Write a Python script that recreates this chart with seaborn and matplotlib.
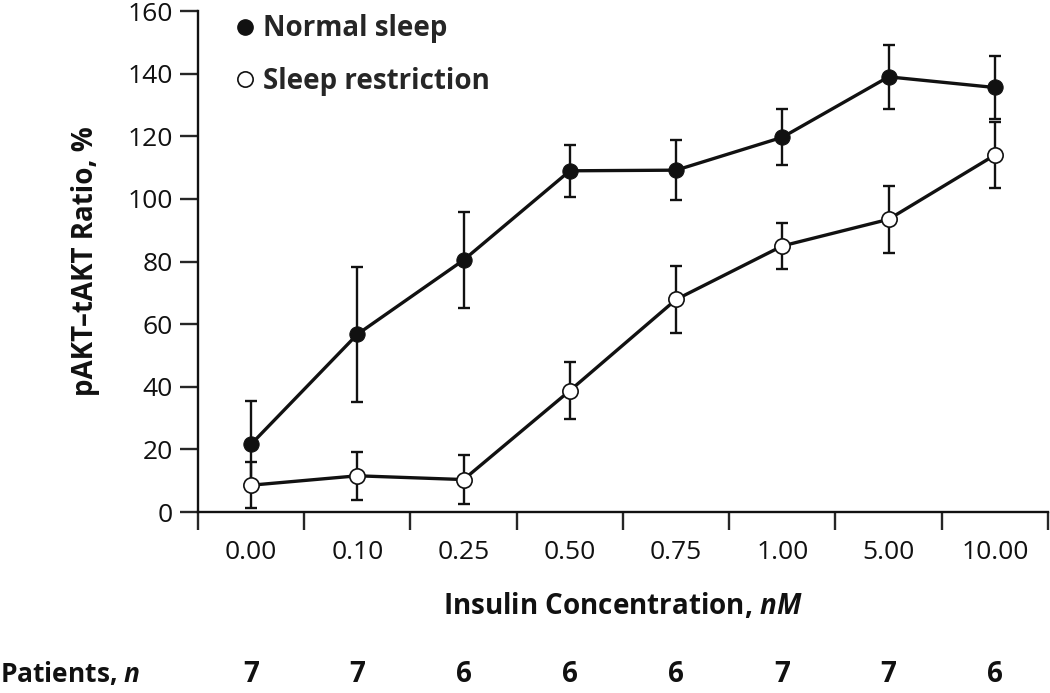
import numpy as np
import pandas as pd
import seaborn as sns
import matplotlib.pyplot as plt
from matplotlib.lines import Line2D
from matplotlib.transforms import blended_transform_factory

concentrations = ["0.00", "0.10", "0.25", "0.50", "0.75", "1.00", "5.00", "10.00"]
normal_mean = [21.7, 56.8, 80.5, 109.0, 109.2, 119.7, 139.0, 135.6]
normal_err = [13.8, 21.5, 15.3, 8.3, 9.6, 9.0, 10.2, 10.0]
restrict_mean = [8.6, 11.6, 10.4, 38.8, 67.9, 85.0, 93.5, 114.0]
restrict_err = [7.4, 7.7, 7.9, 9.2, 10.6, 7.3, 10.7, 10.5]
patients = [7, 7, 6, 6, 6, 7, 7, 6]

sns.set_style("ticks")
plt.rcParams["font.family"] = ["Open Sans", "DejaVu Sans"]
plt.rcParams["mathtext.fontset"] = "custom"
plt.rcParams["mathtext.it"] = "Open Sans:italic"
plt.rcParams["mathtext.bf"] = "Open Sans:bold"
plt.rcParams["mathtext.bfit"] = "Open Sans:bold:italic"

pos = np.arange(len(concentrations))
df = pd.DataFrame({"pos": pos, "normal": normal_mean, "restrict": restrict_mean})

ink = "#111111"
fig = plt.figure(figsize=(10.5, 6.93), dpi=100)
ax = fig.add_axes([0.1886, 0.261, 0.8094, 0.723])

ax.errorbar(pos, normal_mean, yerr=normal_err, fmt="none", ecolor=ink,
            elinewidth=1.7, capsize=4, capthick=1.7, zorder=2)
ax.errorbar(pos, restrict_mean, yerr=restrict_err, fmt="none", ecolor=ink,
            elinewidth=1.7, capsize=4, capthick=1.7, zorder=2)

sns.lineplot(data=df, x="pos", y="normal", ax=ax, color=ink, linewidth=2.4,
             marker="o", markersize=11, markerfacecolor=ink,
             markeredgecolor=ink, zorder=3)
sns.lineplot(data=df, x="pos", y="restrict", ax=ax, color=ink, linewidth=2.4,
             marker="o", markersize=11, markerfacecolor="white",
             markeredgecolor=ink, markeredgewidth=1.2, zorder=3)

ax.set_xlim(-0.5, len(concentrations) - 0.5)
ax.set_ylim(0, 160)
ax.set_yticks(range(0, 161, 20))
ax.set_xticks(np.arange(-0.5, len(concentrations), 1.0))
ax.set_xticklabels([])
ax.set_xticks(pos, minor=True)
ax.set_xticklabels(concentrations, minor=True)
ax.tick_params(axis="x", which="major", length=13, width=1.7, direction="out")
ax.tick_params(axis="x", which="minor", length=0, pad=20, labelsize=19, labelcolor=ink)
ax.tick_params(axis="y", length=13, width=1.7, pad=5, labelsize=19, labelcolor=ink)
for s in ["left", "bottom"]:
    ax.spines[s].set_linewidth(1.7)
    ax.spines[s].set_color(ink)
sns.despine(ax=ax)

ax.set_ylabel("pAKT–tAKT Ratio, %", fontsize=20, fontweight="bold", labelpad=20, color=ink)
ax.set_xlabel(r"Insulin Concentration, $\mathbfit{nM}$", fontsize=20, fontweight="bold",
              labelpad=19, color=ink)

handles = [
    Line2D([], [], linestyle="none", marker="o", markersize=11, color=ink),
    Line2D([], [], linestyle="none", marker="o", markersize=11,
           markerfacecolor="white", markeredgecolor=ink, markeredgewidth=1.2),
]
ax.legend(handles, ["Normal sleep", "Sleep restriction"], loc="upper left",
          bbox_to_anchor=(0.022, 1.032), frameon=False, handlelength=0.6,
          handletextpad=0.35, labelspacing=0.85, borderaxespad=0.3,
          prop={"size": 20, "weight": "bold"})

trans = blended_transform_factory(ax.transData, fig.transFigure)
fig.text(0.0, 0.016, r"Patients, $\mathbfit{n}$", fontsize=19, fontweight="bold",
         color=ink, ha="left", va="baseline")
for p, n in zip(pos, patients):
    ax.text(p, 0.016, str(n), transform=trans, fontsize=20, fontweight="bold",
            color=ink, ha="center", va="baseline", clip_on=False)

fig.savefig("out.png", dpi=100)
